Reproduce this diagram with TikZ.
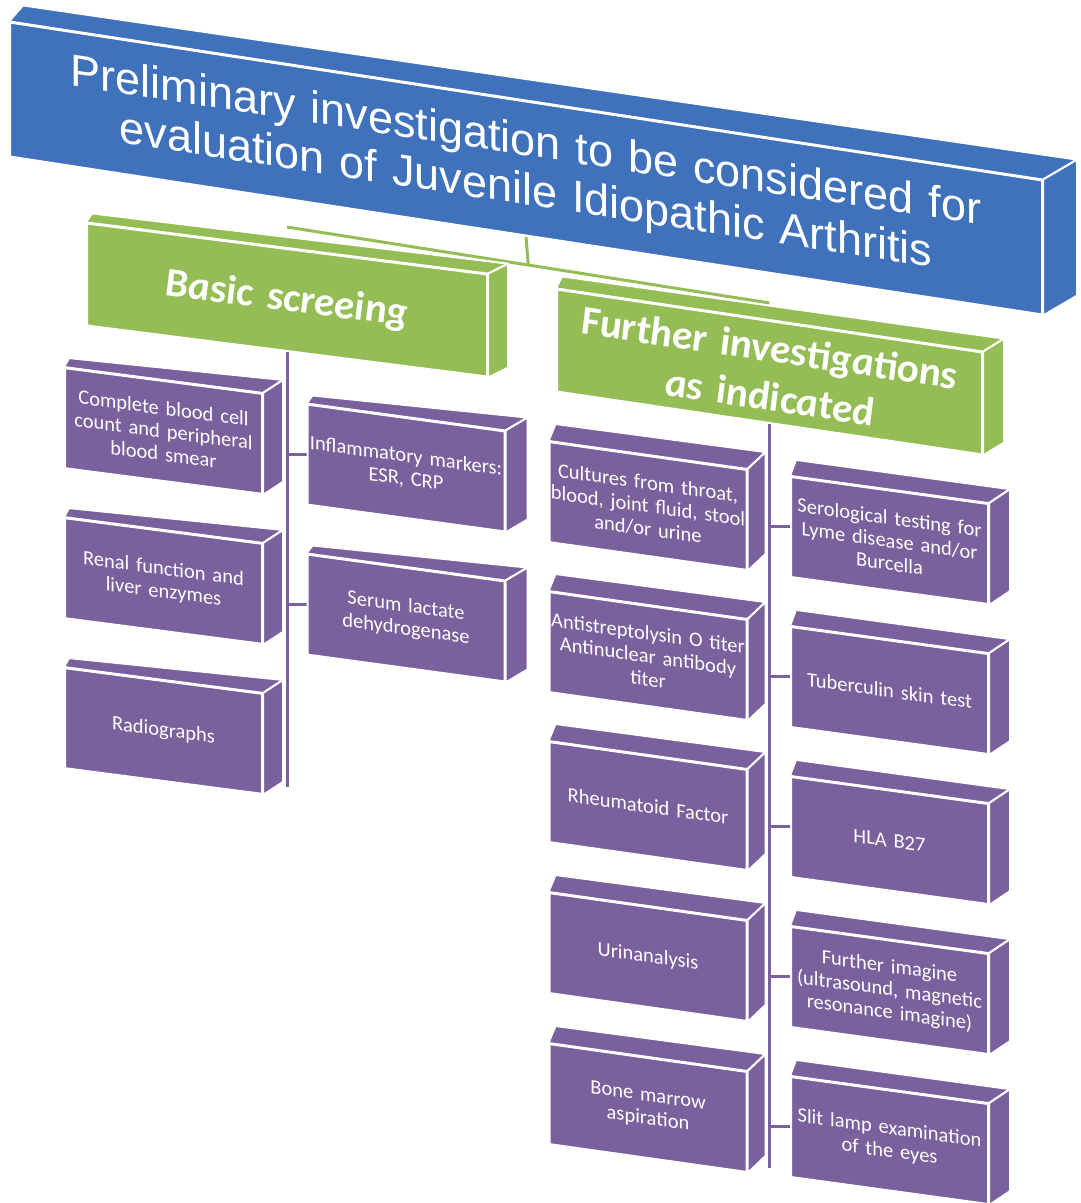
\documentclass[tikz,border=0pt]{standalone}
\usepackage{fontspec}
\newfontfamily\calibrifont{Carlito}
\newfontfamily\arialfont{Liberation Sans}
\usetikzlibrary{calc,backgrounds}
\usepackage{xcolor}

\definecolor{jiablue}{RGB}{64,114,188}
\definecolor{jiagreen}{RGB}{148,189,86}
\definecolor{jiapurple}{RGB}{122,96,156}

% top and side faces of a slab, hung on its front face node
\newcommand{\slabsides}[4]{%
  \filldraw[fill=#4, draw=white, line width=2pt, line join=round] (#1.north west) -- (#1.north east) -- ($(#1.north east)+(#3)$) -- ($(#1.north west)+(#2)$) -- cycle;
  \filldraw[fill=#4, draw=white, line width=2pt, line join=round] (#1.north east) -- (#1.south east) -- ($(#1.south east)+(#3)$) -- ($(#1.north east)+(#3)$) -- cycle;
}

\begin{document}
\begin{tikzpicture}[x=1pt, y=-1pt]
  \tikzstyle{face} = [draw=white, line width=2pt, inner sep=0pt, align=center, text=white, transform shape]
  \tikzstyle{titlebox} = [face, fill=jiablue, text width=1032pt, minimum height=134pt, yslant=-0.153, font=\arialfont\fontsize{45}{49.5}\selectfont]
  \tikzstyle{headbox} = [face, fill=jiagreen, minimum height=102pt, font=\calibrifont\bfseries\itshape\fontsize{41}{49}\selectfont]
  \tikzstyle{testbox} = [face, fill=jiapurple, text width=197pt, minimum height=100pt, font=\calibrifont\fontsize{20.5}{23}\selectfont]
  \tikzstyle{treeline} = [draw=jiapurple, line width=3pt]
  \tikzstyle{topline} = [draw=jiagreen, line width=3pt]

  \useasboundingbox (0,0) rectangle (1080,1203);

  \node[titlebox] (title) at (526,168.5) {Preliminary investigation to be considered for\\evaluation of Juvenile Idiopathic Arthritis};

  \node[headbox, text width=400pt, yslant=-0.1275] (basic) at (287,300) {Basic screeing};
  \node[headbox, text width=425pt, yslant=-0.148] (further) at (769.5,372) {Further investigations\\as indicated};

  % basic screening
  \node[testbox, yslant=-0.130] (cbc) at (163.5,431) {Complete blood cell\\count and peripheral\\blood smear};
  \node[testbox, yslant=-0.130] (renal) at (163.5,581) {Renal function and\\liver enzymes};
  \node[testbox, yslant=-0.130] (radio) at (163.5,731) {Radiographs};
  \node[testbox, yslant=-0.136] (inflam) at (406,468) {Inflammatory markers:\\ESR, CRP};
  \node[testbox, yslant=-0.136] (serum) at (406,618) {Serum lactate\\dehydrogenase};

  % further investigations
  \node[testbox, yslant=-0.141] (cult) at (648,506) {Cultures from throat,\\blood, joint fluid, stool\\and/or urine};
  \node[testbox, yslant=-0.141] (aso) at (648,656) {Antistreptolysin O titer\\Antinuclear antibody\\titer};
  \node[testbox, yslant=-0.141] (rf) at (648,806) {Rheumatoid Factor};
  \node[testbox, yslant=-0.141] (urine) at (648,957) {Urinanalysis};
  \node[testbox, yslant=-0.141] (bone) at (648,1108) {Bone marrow\\aspiration};
  \node[testbox, yslant=-0.137] (sero) at (889.5,540.5) {Serological testing for\\Lyme disease and/or\\Burcella};
  \node[testbox, yslant=-0.137] (tb) at (889.5,690.5) {Tuberculin skin test};
  \node[testbox, yslant=-0.137] (hla) at (889.5,840.5) {HLA B27};
  \node[testbox, yslant=-0.137] (imaging) at (889.5,990.5) {Further imagine\\(ultrasound, magnetic\\resonance imagine)};
  \node[testbox, yslant=-0.137] (slit) at (889.5,1140.5) {Slit lamp examination\\of the eyes};

  \slabsides{title}{14,-16}{34,-20}{jiablue}
  \slabsides{basic}{6,-9}{20,-10}{jiagreen}
  \slabsides{further}{6,-12}{21,-13}{jiagreen}
  \foreach \n in {cbc,renal,radio}
    {\slabsides{\n}{5,-9}{20,-13}{jiapurple}}
  \foreach \n in {inflam,serum}
    {\slabsides{\n}{6,-8}{22,-13}{jiapurple}}
  \foreach \n in {cult,aso,rf,urine,bone}
    {\slabsides{\n}{7,-17}{18,-17}{jiapurple}}
  \foreach \n in {sero,tb,hla,imaging,slit}
    {\slabsides{\n}{6,-16}{21,-14}{jiapurple}}

  \begin{pgfonlayer}{background}
    \coordinate (barL) at (287,227);
    \coordinate (barR) at (769.5,303);
    \coordinate (basicEnd) at (287,787);
    \coordinate (furtherEnd) at (769.5,1168);
    \path[topline] (barL) -- (barR);
    \path[topline] (title.south) -- ($(barL)!0.5!(barR)$);
    \path[treeline] (basic.south) -- (basicEnd);
    \path[treeline] (further.south) -- (furtherEnd);
    \foreach \n in {inflam,serum}
      \path[treeline] (\n.west -| basicEnd) -- (\n.west);
    \foreach \n in {sero,tb,hla,imaging,slit}
      \path[treeline] (\n.west -| furtherEnd) -- (\n.west);
  \end{pgfonlayer}
\end{tikzpicture}
\end{document}
